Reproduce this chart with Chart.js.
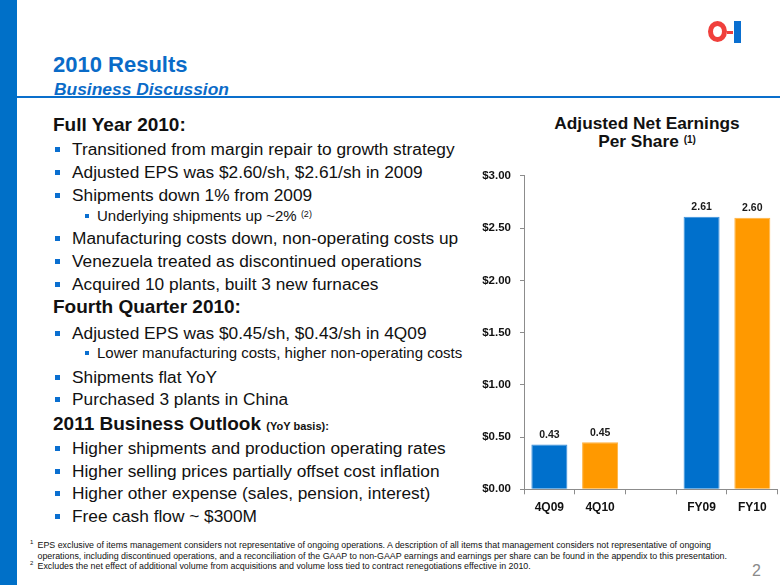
<!DOCTYPE html>
<html>
<head>
<meta charset="utf-8">
<title>2010 Results - Business Discussion</title>
<script src="https://cdn.jsdelivr.net/npm/chart.js@4.4.1/dist/chart.umd.min.js"></script>
<style>
  html, body { margin: 0; padding: 0; background: #fff; }
  body { width: 780px; height: 585px; position: relative; overflow: hidden;
         font-family: "Liberation Sans", Arial, sans-serif; color: #111; }
  .abs { position: absolute; white-space: nowrap; }
  #leftbar { left: 0; top: 0; width: 17px; height: 585px; background: #0070C8; }
  #rule { left: 17px; top: 96px; width: 763px; height: 2px; background: #0A6FCC; }
  #title { left: 53px; top: 52px; font-size: 22px; font-weight: bold; color: #0A6BC8; line-height: 26px; }
  #subtitle { left: 54px; top: 78px; font-size: 17.4px; font-weight: bold; font-style: italic; color: #0A6BC8; line-height: 22px; }
  .line { position: absolute; white-space: nowrap; line-height: 20px; height: 20px; }
  .hd { left: 53px; font-size: 19px; font-weight: bold; }
  .bl { left: 72px; font-size: 17.3px; }
  .bl::before { content: ""; position: absolute; left: -17px; top: 8px; width: 5px; height: 5px; background: #0A6FD0; }
  .sb { left: 97px; font-size: 15px; }
  .sb::before { content: ""; position: absolute; left: -12px; top: 8px; width: 4px; height: 4px; background: #0A6FD0; }
  .sup { position: relative; top: -0.45em; font-size: 0.6em; }
  .small { font-size: 11px; }
  #chart-title { left: 497px; top: 114px; width: 300px; text-align: center; font-size: 17.3px;
                 font-weight: bold; line-height: 18px; white-space: normal; }
  #chart-wrap { position: absolute; left: 470px; top: 160px; width: 310px; height: 360px; }
  .fn { position: absolute; left: 37.5px; font-size: 8.85px; line-height: 10px; white-space: nowrap; color: #111; }
  .fnum { position: absolute; left: 30px; font-size: 6px; line-height: 8px; color: #111; }
  #page { left: 752px; top: 561px; font-size: 16px; color: #8a8a8a; line-height: 20px; }
  #logo-o { left: 708px; top: 21px; width: 9px; height: 11px; border: 5px solid #F0403C; border-radius: 50%; }
  #logo-d { left: 727px; top: 31px; width: 6px; height: 3px; background: #F0403C; }
  #logo-i { left: 734px; top: 21px; width: 7px; height: 22px; background: #0A6FD0; }
</style>
</head>
<body>
<div id="leftbar" class="abs"></div>
<div id="logo-o" class="abs"></div>
<div id="logo-d" class="abs"></div>
<div id="logo-i" class="abs"></div>
<div id="title" class="abs">2010 Results</div>
<div id="subtitle" class="abs">Business Discussion</div>
<div id="rule" class="abs"></div>

<div class="line hd" style="top:115px">Full Year 2010:</div>
<div class="line bl" style="top:139px">Transitioned from margin repair to growth strategy</div>
<div class="line bl" style="top:162px">Adjusted EPS was $2.60/sh, $2.61/sh in 2009</div>
<div class="line bl" style="top:185px">Shipments down 1% from 2009</div>
<div class="line sb" style="top:206px">Underlying shipments up ~2% <span class="sup">(2)</span></div>
<div class="line bl" style="top:228px">Manufacturing costs down, non-operating costs up</div>
<div class="line bl" style="top:251px">Venezuela treated as discontinued operations</div>
<div class="line bl" style="top:274px">Acquired 10 plants, built 3 new furnaces</div>
<div class="line hd" style="top:297px">Fourth Quarter 2010:</div>
<div class="line bl" style="top:323px">Adjusted EPS was $0.45/sh, $0.43/sh in 4Q09</div>
<div class="line sb" style="top:343px">Lower manufacturing costs, higher non-operating costs</div>
<div class="line bl" style="top:367px">Shipments flat YoY</div>
<div class="line bl" style="top:389px">Purchased 3 plants in China</div>
<div class="line hd" style="top:414px">2011 Business Outlook <span class="small">(YoY basis):</span></div>
<div class="line bl" style="top:438px">Higher shipments and production operating rates</div>
<div class="line bl" style="top:461px">Higher selling prices partially offset cost inflation</div>
<div class="line bl" style="top:483px">Higher other expense (sales, pension, interest)</div>
<div class="line bl" style="top:506px">Free cash flow ~ $300M</div>

<div id="chart-title" class="abs">Adjusted Net Earnings<br>Per Share <span class="sup" style="font-size:10px">(1)</span></div>
<div id="chart-wrap"><canvas id="eps-chart"></canvas></div>

<div class="fnum" style="top:538px">1</div>
<div class="fn" style="top:540px">EPS exclusive of items management considers not representative of ongoing operations. A description of all items that management considers not representative of ongoing</div>
<div class="fn" style="top:550.5px">operations, including discontinued operations, and a reconciliation of the GAAP to non-GAAP earnings and earnings per share can be found in the appendix to this presentation.</div>
<div class="fnum" style="top:559px">2</div>
<div class="fn" style="top:561px">Excludes the net effect of additional volume from acquisitions and volume loss tied to contract renegotiations effective in 2010.</div>
<div id="page" class="abs">2</div>

<script>
// Chart data (adjusted net EPS, $/share)
const categories = ['4Q09', '4Q10', '', 'FY09', 'FY10'];
const epsValues = [0.43, 0.45, null, 2.61, 2.60];
const barColors = ['#0070CC', '#FF9900', 'rgba(0,0,0,0)', '#0070CC', '#FF9900'];
const barEdges = ['#3A8FDB', '#FFB23F', 'rgba(0,0,0,0)', '#3A8FDB', '#FFB23F'];
const yMin = 0;
const yMax = 3;
const yStep = 0.5;

// Draw the value above each bar
const valueLabels = {
    id: 'valueLabels',
    afterDatasetsDraw(chart) {
        const ctx = chart.ctx;
        const meta = chart.getDatasetMeta(0);
        ctx.save();
        ctx.font = 'bold 10.5px "Liberation Sans", Arial, sans-serif';
        ctx.fillStyle = '#1a1a1a';
        ctx.textAlign = 'center';
        ctx.textBaseline = 'middle';
        meta.data.forEach((bar, i) => {
            const v = epsValues[i];
            if (v === null) return;
            ctx.fillText(v.toFixed(2), bar.x, bar.y - 9.5);
        });
        ctx.restore();
    }
};

const axisGray = '#8c8c8c';

new Chart(document.getElementById('eps-chart').getContext('2d'), {
    type: 'bar',
    data: {
        labels: categories,
        datasets: [{
            data: epsValues,
            backgroundColor: barColors,
            borderColor: barEdges,
            borderWidth: 1,
            barPercentage: 0.71,
            categoryPercentage: 1.0
        }]
    },
    options: {
        responsive: true,
        maintainAspectRatio: false,
        animation: false,
        layout: { padding: { top: 12.7, right: 2.3, bottom: 0, left: 0 } },
        plugins: {
            legend: { display: false },
            tooltip: { enabled: false }
        },
        scales: {
            x: {
                grid: { display: true, drawOnChartArea: false, tickLength: 5, color: axisGray, offset: true },
                border: { display: true, color: axisGray, width: 1 },
                ticks: {
                    color: '#111',
                    padding: 6,
                    font: { family: '"Liberation Sans", Arial, sans-serif', size: 12, weight: 'bold' }
                },
                afterFit(scale) { scale.height = 30.7; }
            },
            y: {
                min: yMin,
                max: yMax,
                grid: { display: true, drawOnChartArea: false, tickLength: 4, color: axisGray },
                border: { display: true, color: axisGray, width: 1 },
                ticks: {
                    stepSize: yStep,
                    color: '#111',
                    padding: 9,
                    font: { family: '"Liberation Sans", Arial, sans-serif', size: 11.5, weight: 'bold' },
                    callback: v => '$' + Number(v).toFixed(2)
                },
                afterFit(scale) { scale.width = 54; }
            }
        }
    },
    plugins: [valueLabels]
});
</script>
</body>
</html>
